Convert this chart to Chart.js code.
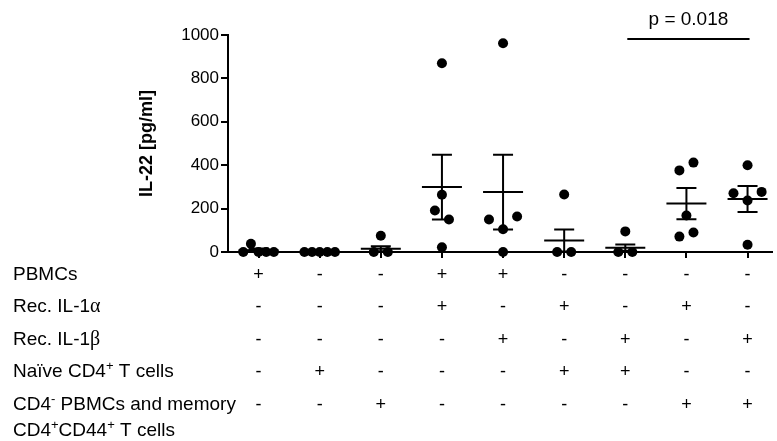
<!DOCTYPE html>
<html>
<head>
<meta charset="utf-8">
<script src="https://cdn.jsdelivr.net/npm/chart.js@4/dist/chart.umd.min.js"></script>
<style>
  body { margin: 0; background: #fff; }
</style>
</head>
<body>
<canvas id="il22Chart" width="777" height="441"></canvas>
<script>
// grupos (columnas) 1..9
const grupos = [1, 2, 3, 4, 5, 6, 7, 8, 9];

// valores individuales IL-22 [pg/ml], en orden de izquierda a derecha
const puntos = [
  [0, 38, 0, 0, 0],
  [0, 0, 0, 0, 0],
  [0, 75, 0],
  [870, 264, 191, 150, 22],
  [962, 150, 105, 164, 0],
  [265, 0, 0],
  [95, 0, 0],
  [376, 412, 168, 71, 90],
  [400, 271, 237, 277, 33]
];

// media y SEM
const medias = [8, 0, 15, 299, 276, 53, 20, 223, 244];
const sems = [8, 0, 12, 149, 172, 51, 14, 72, 60];

const yTicks = [0, 200, 400, 600, 800, 1000];
const yTickLabels = ['0', '200', '400', '600', '800', '1000'];

// tabla de condiciones
const filas = [
  [['PBMCs']],
  [['Rec. IL-1'], ['\u03b1', 'greek']],
  [['Rec. IL-1'], ['\u03b2', 'greek']],
  [['Na\u00efve CD4'], ['+', 'sup'], [' T cells']],
  [['CD4'], ['-', 'sup'], [' PBMCs and memory']],
  [['CD4'], ['+', 'sup'], ['CD44'], ['+', 'sup'], [' T cells']]
];
const signos = [
  ['+', '-', '-', '+', '+', '-', '-', '-', '-'],
  ['-', '-', '-', '+', '-', '+', '-', '+', '-'],
  ['-', '-', '-', '-', '+', '-', '+', '-', '+'],
  ['-', '+', '-', '-', '-', '+', '+', '-', '-'],
  ['-', '-', '+', '-', '-', '-', '-', '+', '+']
];

const comparacion = { desde: 7, hasta: 9, texto: 'p = 0.018', y: 982 };

const sans = '"Liberation Sans", Arial, sans-serif';

// reparte horizontalmente los puntos con valores parecidos
const rowGap = 48, dotStep = 0.23, maxSpan = 0.5;
function repartir(vals) {
  const idx = vals.map((v, i) => i).sort((a, b) => vals[a] - vals[b]);
  const rows = [];
  let last = null;
  idx.forEach(i => {
    if (last === null || vals[i] - vals[last] > rowGap) rows.push([]);
    rows[rows.length - 1].push(i);
    last = i;
  });
  const off = [];
  rows.forEach(r => {
    r.sort((a, b) => a - b);
    const step = r.length > 1 ? Math.min(dotStep, maxSpan / (r.length - 1)) : 0;
    r.forEach((i, k) => { off[i] = (k - (r.length - 1) / 2) * step; });
  });
  return off;
}

const datos = [];
puntos.forEach((vals, g) => {
  const off = repartir(vals);
  vals.forEach((v, i) => datos.push({ x: grupos[g] + off[i], y: v }));
});

const extras = {
  id: 'extras',
  afterDatasetsDraw(chart) {
    const ctx = chart.ctx, x = chart.scales.x, y = chart.scales.y;
    ctx.save();
    ctx.strokeStyle = '#000';
    ctx.lineWidth = 2;
    // media +/- SEM
    grupos.forEach((g, i) => {
      const cx = x.getPixelForValue(g);
      const ym = y.getPixelForValue(medias[i]);
      const yt = y.getPixelForValue(medias[i] + sems[i]);
      const yb = y.getPixelForValue(Math.max(0, medias[i] - sems[i]));
      ctx.beginPath();
      ctx.moveTo(cx - 20, ym); ctx.lineTo(cx + 20, ym);
      ctx.moveTo(cx, yt); ctx.lineTo(cx, yb);
      ctx.moveTo(cx - 10, yt); ctx.lineTo(cx + 10, yt);
      ctx.moveTo(cx - 10, yb); ctx.lineTo(cx + 10, yb);
      ctx.stroke();
    });
    // barra de significancia
    const x1 = x.getPixelForValue(comparacion.desde) + 2;
    const x2 = x.getPixelForValue(comparacion.hasta) + 2;
    const yl = y.getPixelForValue(comparacion.y);
    ctx.beginPath();
    ctx.moveTo(x1, yl); ctx.lineTo(x2, yl);
    ctx.stroke();
    ctx.fillStyle = '#000';
    ctx.font = '19px ' + sans;
    ctx.textAlign = 'center';
    ctx.fillText(comparacion.texto, (x1 + x2) / 2, yl - 14);
    ctx.restore();
  },
  afterDraw(chart) {
    const ctx = chart.ctx, x = chart.scales.x;
    ctx.save();
    ctx.fillStyle = '#000';
    const base0 = 279.5, paso = 32.5;
    filas.forEach((partes, r) => {
      const base = r < 5 ? base0 + r * paso : base0 + 4 * paso + 26;
      let px = 13;
      ctx.textAlign = 'left';
      partes.forEach(([t, tipo]) => {
        if (tipo === 'sup') ctx.font = '13px ' + sans;
        else if (tipo === 'greek') ctx.font = '20px "Liberation Serif", serif';
        else ctx.font = '19px ' + sans;
        ctx.fillText(t, px, tipo === 'sup' ? base - 7 : base);
        px += ctx.measureText(t).width;
      });
      if (signos[r]) {
        ctx.font = '18px ' + sans;
        ctx.textAlign = 'center';
        signos[r].forEach((s, g) => ctx.fillText(s, x.getPixelForValue(grupos[g]), base));
      }
    });
    ctx.restore();
  }
};

const ctx = document.getElementById('il22Chart').getContext('2d');
new Chart(ctx, {
  type: 'scatter',
  data: {
    datasets: [{
      data: datos,
      backgroundColor: '#000',
      borderWidth: 0,
      pointRadius: 5,
      clip: false
    }]
  },
  options: {
    responsive: false,
    animation: false,
    events: [],
    layout: { padding: { top: 35, bottom: 183, left: 0, right: 0 } },
    plugins: { legend: { display: false }, tooltip: { enabled: false } },
    scales: {
      x: {
        type: 'linear',
        min: 0.5,
        max: 9.4,
        ticks: { display: false },
        grid: { drawOnChartArea: false, tickLength: 6, color: '#000', lineWidth: 2 },
        border: { color: '#000', width: 2 },
        afterBuildTicks: s => { s.ticks = grupos.map(g => ({ value: g })); },
        afterFit: s => { s.height = 6; }
      },
      y: {
        min: 0,
        max: 1000,
        ticks: {
          color: '#000',
          padding: 2,
          font: { size: 17, family: sans },
          callback: (v) => yTickLabels[yTicks.indexOf(v)]
        },
        grid: { drawOnChartArea: false, tickLength: 7, color: '#000', lineWidth: 2 },
        border: { color: '#000', width: 2 },
        title: {
          display: true,
          text: 'IL-22 [pg/ml]',
          color: '#000',
          font: { size: 18, weight: 'bold', family: sans },
          padding: { top: 136, bottom: 0 }
        },
        afterBuildTicks: s => { s.ticks = yTicks.map(v => ({ value: v })); },
        afterFit: s => { s.width = 228; }
      }
    }
  },
  plugins: [extras]
});
</script>
</body>
</html>
